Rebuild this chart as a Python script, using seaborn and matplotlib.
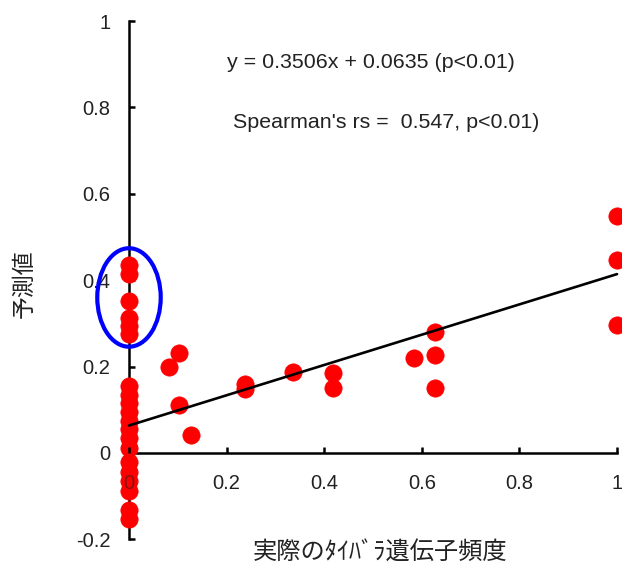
import matplotlib
matplotlib.use("Agg")
import matplotlib.pyplot as plt
from matplotlib.patches import Ellipse
import numpy as np
import pandas as pd
import seaborn as sns

# Observed frequency of the Taibara gene vs. predicted value
x_zero_upper = [0.0, 0.0, 0.0, 0.0, 0.0, 0.0]
y_zero_upper = [0.435, 0.415, 0.352, 0.313, 0.294, 0.276]

x_zero_lower = [0.0] * 14
y_zero_lower = [0.155, 0.135, 0.115, 0.095, 0.075, 0.055, 0.035, 0.012,
                -0.02, -0.045, -0.065, -0.088, -0.132, -0.152]

x_other = [0.081, 0.103, 0.103, 0.128, 0.238, 0.238, 0.337, 0.419, 0.419,
           0.583, 0.627, 0.627, 0.627, 1.0, 1.0, 1.0]
y_other = [0.200, 0.231, 0.111, 0.042, 0.160, 0.148, 0.188, 0.185, 0.150,
           0.219, 0.281, 0.227, 0.150, 0.549, 0.447, 0.297]

# Regression fit
slope = 0.3506
intercept = 0.0635
fit_x = [0.0, 1.0]

x_ticks = [0, 0.2, 0.4, 0.6, 0.8, 1]
y_ticks = [-0.2, 0, 0.2, 0.4, 0.6, 0.8, 1]

equation_text = "y = 0.3506x + 0.0635 (p<0.01)"
spearman_text = "Spearman's rs =  0.547, p<0.01)"
x_label = "実際のﾀｲﾊﾞﾗ遺伝子頻度"
y_label = "予測値"

sns.set_theme(style="white")
plt.rcParams["font.family"] = ["Liberation Sans", "Noto Sans CJK JP", "DejaVu Sans"]
jp_family = ["Noto Sans CJK JP", "DejaVu Sans"]
text_color = "#222222"

df = pd.DataFrame({
    "x": x_zero_upper + x_zero_lower + x_other,
    "y": y_zero_upper + y_zero_lower + y_other,
})
fit_df = pd.DataFrame({"x": fit_x, "y": [slope * v + intercept for v in fit_x]})

W, H = 622, 570
fig = plt.figure(figsize=(W / 100, H / 100), dpi=100)
ax = fig.add_axes([90 / W, 25 / H, (W - 90) / W, 530 / H])

sns.scatterplot(data=df, x="x", y="y", ax=ax, color="#ff0000", s=155,
                edgecolor="#ff0000", linewidth=0.5, zorder=3, legend=False)
sns.lineplot(data=fit_df, x="x", y="y", ax=ax, color="black", linewidth=1.9,
             zorder=4, legend=False)

ax.add_patch(Ellipse((0.0, 0.36), 0.13, 0.228, fill=False,
                     edgecolor="#0000ff", linewidth=3.0, zorder=5))

ax.set_xlim(-0.0799, 1.0102)
ax.set_ylim(-0.213, 1.0139)

for side in ("top", "right"):
    ax.spines[side].set_visible(False)
ax.spines["left"].set_position(("data", 0))
ax.spines["bottom"].set_position(("data", 0))
ax.spines["left"].set_bounds(-0.2, 1)
ax.spines["bottom"].set_bounds(0, 1)
for side in ("left", "bottom"):
    ax.spines[side].set_color("black")
    ax.spines[side].set_linewidth(1.8)
    ax.spines[side].set_zorder(2)

ax.set_xticks(x_ticks)
ax.set_xticklabels([f"{v:g}" for v in x_ticks])
ax.set_yticks(y_ticks)
ax.set_yticklabels([f"{v:g}" for v in y_ticks])
ax.tick_params(axis="both", direction="in", length=4.5, width=1.8,
               color="black", labelsize=14.5, labelcolor=text_color)
ax.tick_params(axis="y", pad=13.5, left=True)
ax.tick_params(axis="x", pad=15, bottom=True)
# the x-axis labels sit above the markers so the "0" shows through the column
ax.xaxis.set_zorder(6)
ax.get_xticklabels()[0].set_alpha(0.55)
ax.set_xlabel("")
ax.set_ylabel("")

ax.text(0.2, 0.903, equation_text, ha="left", va="center", fontsize=15.4,
        color=text_color)
ax.text(0.213, 0.764, spearman_text, ha="left", va="center", fontsize=15.4,
        color=text_color)

fig.text(380 / W, 1 - 553 / H, x_label, ha="center", va="center",
         fontsize=17.5, color=text_color, family=jp_family)
fig.text(24 / W, 1 - 284 / H, y_label, ha="center", va="center",
         rotation=90, fontsize=16.5, color=text_color, family=jp_family)

fig.savefig("out.png", dpi=100)
